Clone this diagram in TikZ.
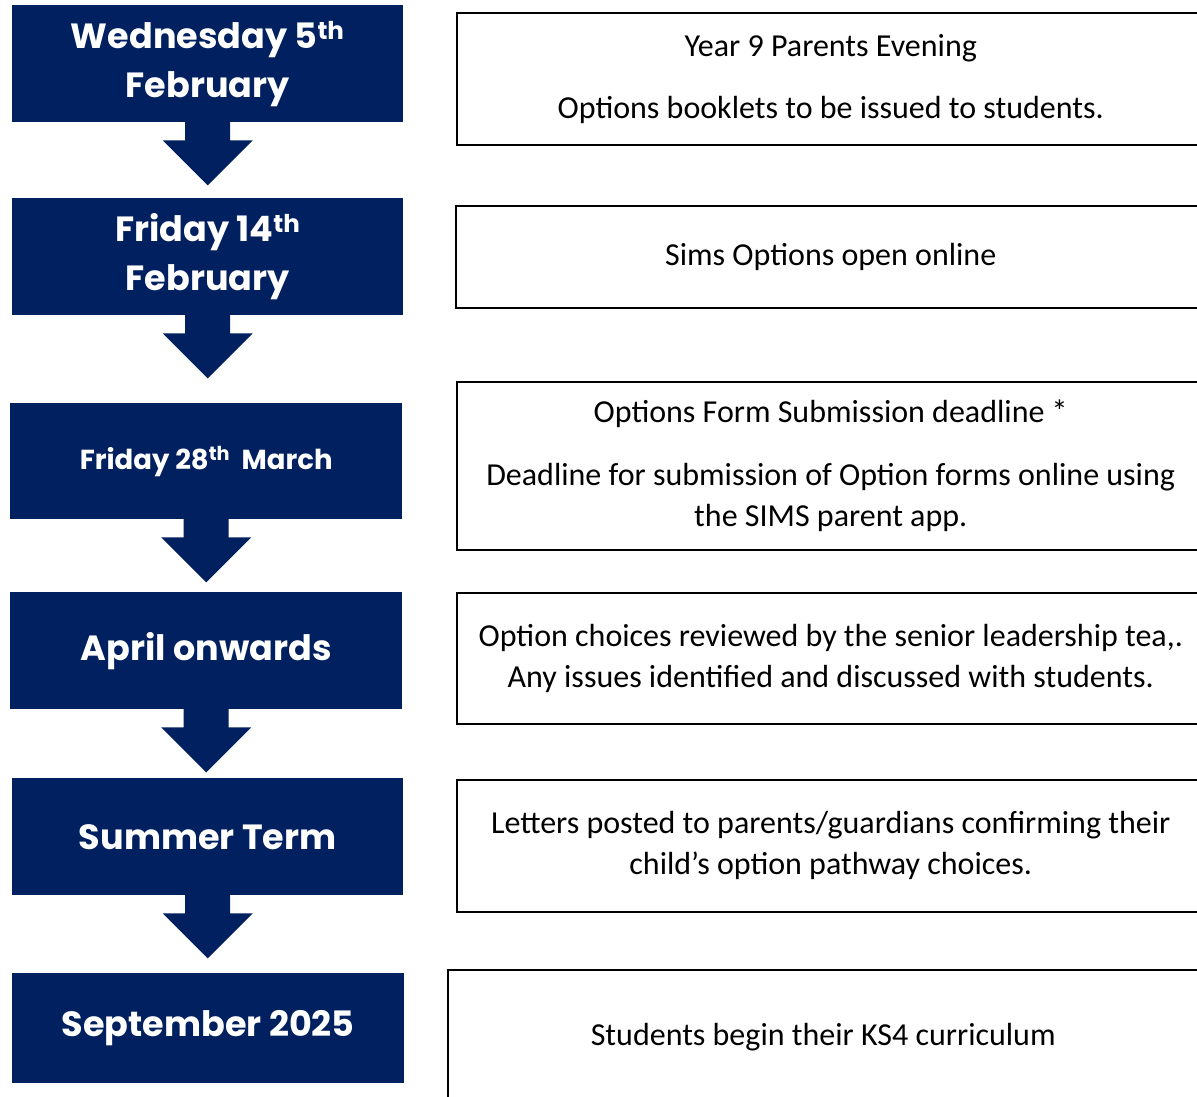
\documentclass[tikz,border=0pt]{standalone}
\usepackage{fontspec}
\setmainfont{Carlito}
\newfontfamily\popfont{Poppins}
\usetikzlibrary{calc}
\definecolor{navy}{HTML}{002060}
\newcommand\datefnt{\popfont\bfseries\fontsize{35}{49}\selectfont}
\newcommand\smalldatefnt{\popfont\bfseries\fontsize{27.5}{32}\selectfont}
\newcommand\infofnt{\fontsize{32}{41}\selectfont}
\newcommand\sth[1]{\textsuperscript{#1}}
\tikzset{
  datebox/.style={fill=navy, text=white, anchor=north west, inner sep=0pt,
    minimum width=391pt, align=center, font=\datefnt},
  infobox/.style={draw=black, line width=1.5pt, anchor=north west, inner sep=0pt,
    align=center, font=\infofnt},
  blockarrow/.style={fill=navy}
}
\begin{document}
\begin{tikzpicture}[x=1pt,y=-1pt]
\useasboundingbox (0,0) rectangle (1197,1096);
% date boxes
\node[datebox, minimum height=117pt] (l1) at (12,5) {Wednesday 5\sth{th}\\February};
\node[datebox, minimum height=117pt] (l2) at (12,198) {Friday 14\sth{th}\\February};
\node[datebox, minimum height=116pt, minimum width=392pt, font=\smalldatefnt] (l3) at (10,403) {Friday 28\sth{th}\ \ March};
\node[datebox, minimum height=117pt, minimum width=392pt] (l4) at (10,592) {April onwards};
\node[datebox, minimum height=117pt] (l5) at (12,778) {Summer Term};
\node[datebox, minimum height=110pt, minimum width=392pt] (l6) at (12,973) {September 2025};
% block arrows
\foreach \n in {l1,l2,l3,l4,l5}{
  \fill[blockarrow] ($(\n.south)+(-22.5,-1)$) -- ($(\n.south)+(-22.5,18)$)
    -- ($(\n.south)+(-45,18)$) -- ($(\n.south)+(0,63)$) -- ($(\n.south)+(45,18)$)
    -- ($(\n.south)+(22.5,18)$) -- ($(\n.south)+(22.5,-1)$) -- cycle;
}
% info boxes
\node[infobox, minimum width=748pt, minimum height=132pt] (r1) at (456,12)
  {Year 9 Parents Evening\\[21pt]Options booklets to be issued to students.};
\node[infobox, minimum width=750pt, minimum height=102pt] (r2) at (455,205)
  {Sims Options open online};
\node[infobox, minimum width=748pt, minimum height=168pt] (r3) at (456,381)
  {Options Form Submission deadline *\\[22pt]Deadline for submission of Option forms online using\\the SIMS parent app.};
\node[infobox, minimum width=748pt, minimum height=131pt] (r4) at (456,592)
  {Option choices reviewed by the senior leadership tea,.\\Any issues identified and discussed with students.};
\node[infobox, minimum width=748pt, minimum height=132pt] (r5) at (456,779)
  {Letters posted to parents/guardians confirming their\\child’s option pathway choices.};
\node[infobox, minimum width=751pt, minimum height=134pt] (r6) at (447,969)
  {Students begin their KS4 curriculum};
\end{tikzpicture}
\end{document}
